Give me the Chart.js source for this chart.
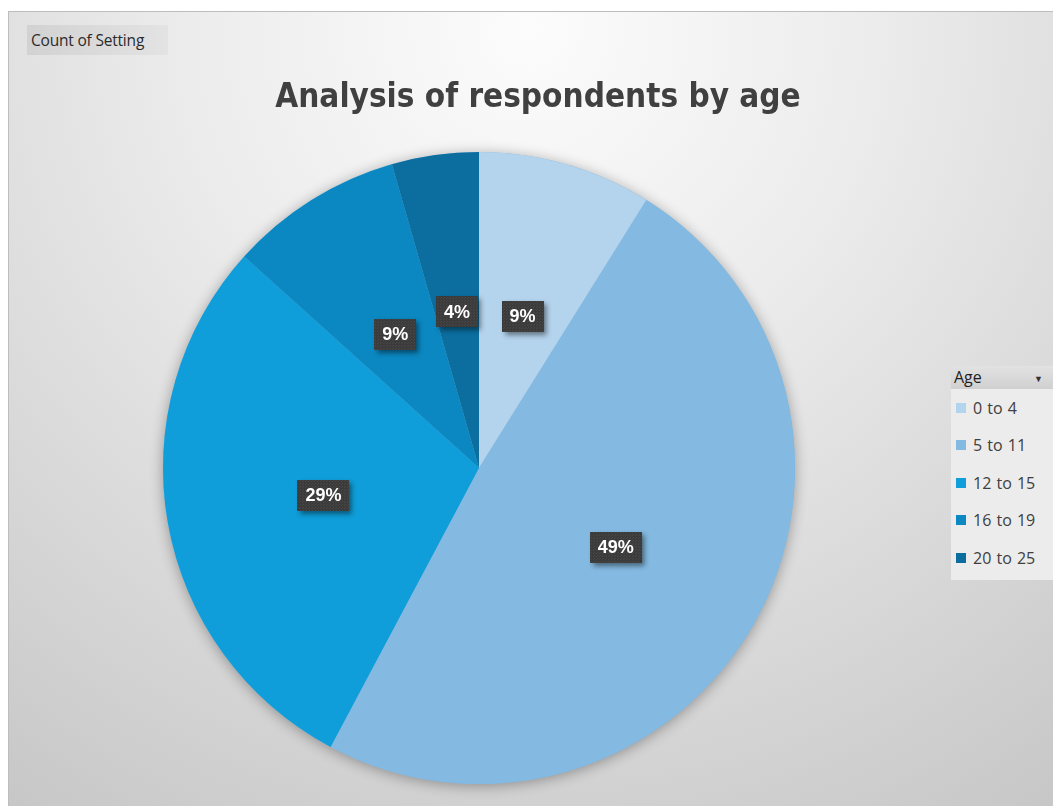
<!DOCTYPE html>
<html>
<head>
<meta charset="utf-8">
<title>Analysis of respondents by age</title>
<script src="https://cdn.jsdelivr.net/npm/chart.js@4.4.1/dist/chart.umd.min.js"></script>
<style>
  html, body { margin: 0; padding: 0; background: #ffffff; }
  #wrap { position: relative; width: 1053px; height: 806px; overflow: hidden; }
  #c { position: absolute; left: 0; top: 0; }
  #fieldButton {
    position: absolute; left: 27px; top: 25px; width: 141px; height: 30px;
    box-sizing: border-box; padding-left: 4px; line-height: 30px;
    background: linear-gradient(to right, #d2d2d2, #e3e3e3);
    font-family: "Open Sans", "Noto Sans", sans-serif; font-size: 15.5px; color: #2b2b2b;
    white-space: nowrap; letter-spacing: -0.2px;
  }
  #legend {
    position: absolute; left: 951px; top: 366px; width: 102px; height: 214px;
    background: #ececec;
    font-family: "Open Sans", "Noto Sans", sans-serif; color: #404040;
  }
  #legend .head {
    height: 23px; line-height: 23px; padding-left: 3px; position: relative;
    background: linear-gradient(to bottom, #e2e2e2, #d0d0d0);
    font-size: 16px; color: #1f1f1f;
  }
  #legend .head .arrow {
    position: absolute; right: 10px; top: 1px; font-size: 9px; color: #333;
  }
  #legend .item {
    height: 37.5px; display: flex; align-items: center; padding-left: 5px;
    font-size: 16px; word-spacing: 1px; white-space: nowrap;
  }
  #legend .sw { width: 10px; height: 10px; margin-right: 7px; flex: none; }
</style>
</head>
<body>
<div id="wrap">
  <canvas id="c" width="1053" height="806"></canvas>
  <div id="fieldButton"></div>
  <div id="legend"></div>
</div>
<script>
// Pivot data: respondents counted per age band
const ageGroups = ['0 to 4', '5 to 11', '12 to 15', '16 to 19', '20 to 25'];
const respondentCounts = [4, 22, 13, 4, 2];
const sliceColours = ['#b4d3ec', '#84b9e1', '#0f9ed9', '#0b88c1', '#0b6e9f'];
const chartTitle = 'Analysis of respondents by age';
const valueFieldName = 'Count of Setting';
const legendFieldName = 'Age';

// Sheet-style backdrop: soft radial grey fill inside a thin frame
const backdrop = {
  id: 'backdrop',
  beforeDraw(chart) {
    const { ctx, width, height } = chart;
    ctx.save();
    ctx.fillStyle = '#ffffff';
    ctx.fillRect(0, 0, width, height);
    const g = ctx.createRadialGradient(530, 30, 0, 530, 30, 980);
    g.addColorStop(0, '#fcfcfc');
    g.addColorStop(0.35, '#ececec');
    g.addColorStop(1, '#c4c4c4');
    ctx.fillStyle = g;
    ctx.fillRect(8, 11, width - 8, height - 11);
    ctx.fillStyle = '#bdbdbd';
    ctx.fillRect(8, 11, width - 8, 1);
    ctx.fillRect(8, 11, 1, height - 11);
    ctx.restore();
  }
};

// Reserves the column on the right where the field legend sits
const legendColumn = {
  id: 'legendColumn',
  start(chart, args, opts) {
    const box = {
      position: 'right', weight: 5, fullSize: false, options: {},
      left: 0, top: 0, right: 0, bottom: 0, width: 0, height: 0,
      isHorizontal() { return false; },
      update(maxWidth, maxHeight) { this.width = opts.width || 0; this.height = maxHeight; },
      draw() {}
    };
    Chart.layouts.addBox(chart, box);
  }
};

// Soft shadow under the whole pie
const pieShadow = {
  id: 'pieShadow',
  beforeDatasetsDraw(chart) {
    const arc = chart.getDatasetMeta(0).data[0];
    if (!arc) return;
    const { ctx } = chart;
    ctx.save();
    ctx.shadowColor = 'rgba(0,0,0,0.33)';
    ctx.shadowBlur = 14;
    ctx.shadowOffsetY = 2;
    ctx.beginPath();
    ctx.arc(arc.x, arc.y, arc.outerRadius, 0, Math.PI * 2);
    ctx.fillStyle = sliceColours[1];
    ctx.fill();
    ctx.restore();
  }
};

// Percentage call-outs: dark textured boxes with white bold text
let labelPattern = null;
function getLabelPattern(ctx) {
  if (labelPattern) return labelPattern;
  const t = document.createElement('canvas');
  t.width = 3; t.height = 3;
  const tc = t.getContext('2d');
  tc.fillStyle = '#3b3b3b';
  tc.fillRect(0, 0, 3, 3);
  tc.fillStyle = '#4a4747';
  tc.fillRect(0, 0, 1, 1);
  tc.fillRect(2, 1, 1, 1);
  labelPattern = ctx.createPattern(t, 'repeat');
  return labelPattern;
}
const percentLabels = {
  id: 'percentLabels',
  afterDatasetsDraw(chart) {
    const { ctx } = chart;
    const meta = chart.getDatasetMeta(0);
    const values = chart.data.datasets[0].data;
    const total = values.reduce((a, b) => a + b, 0);
    ctx.save();
    ctx.font = 'bold 18px "Liberation Sans", Arial, sans-serif';
    ctx.textAlign = 'center';
    ctx.textBaseline = 'middle';
    meta.data.forEach((arc, i) => {
      const text = Math.round(values[i] / total * 100) + '%';
      const p = arc.tooltipPosition();
      const w = ctx.measureText(text).width + 16;
      const h = 31;
      const bx = Math.round(p.x - w / 2), by = Math.round(p.y - h / 2);
      ctx.save();
      ctx.shadowColor = 'rgba(0,0,0,0.45)';
      ctx.shadowBlur = 5;
      ctx.shadowOffsetX = 3;
      ctx.shadowOffsetY = 3;
      ctx.fillStyle = '#3b3b3b';
      ctx.fillRect(bx, by, w, h);
      ctx.restore();
      ctx.fillStyle = getLabelPattern(ctx);
      ctx.fillRect(bx, by, w, h);
      ctx.fillStyle = '#ffffff';
      ctx.fillText(text, p.x, p.y + 1);
    });
    ctx.restore();
  }
};

const chart = new Chart(document.getElementById('c'), {
  type: 'pie',
  data: {
    labels: ageGroups,
    datasets: [{
      label: valueFieldName,
      data: respondentCounts,
      backgroundColor: sliceColours,
      borderWidth: 0
    }]
  },
  options: {
    responsive: false,
    animation: false,
    devicePixelRatio: 1,
    layout: { padding: { left: 23, right: 0, top: 0, bottom: 22 } },
    plugins: {
      legend: { display: false },
      tooltip: { enabled: false },
      legendColumn: { width: 118 },
      title: {
        display: true,
        text: chartTitle,
        color: '#404040',
        font: { family: '"DejaVu Sans Condensed", "Liberation Sans", sans-serif', size: 33, weight: 'bold', lineHeight: 1.2 },
        padding: { top: 79, bottom: 33.4 }
      }
    }
  },
  plugins: [backdrop, legendColumn, pieShadow, percentLabels]
});

// Field button and legend panel built from the same series
document.getElementById('fieldButton').textContent = valueFieldName;
const legendEl = document.getElementById('legend');
const head = document.createElement('div');
head.className = 'head';
head.textContent = legendFieldName;
const arrow = document.createElement('span');
arrow.className = 'arrow';
arrow.textContent = '▼';
head.appendChild(arrow);
legendEl.appendChild(head);
ageGroups.forEach((name, i) => {
  const row = document.createElement('div');
  row.className = 'item';
  const sw = document.createElement('span');
  sw.className = 'sw';
  sw.style.background = sliceColours[i];
  row.appendChild(sw);
  row.appendChild(document.createTextNode(name));
  legendEl.appendChild(row);
});
</script>
</body>
</html>
